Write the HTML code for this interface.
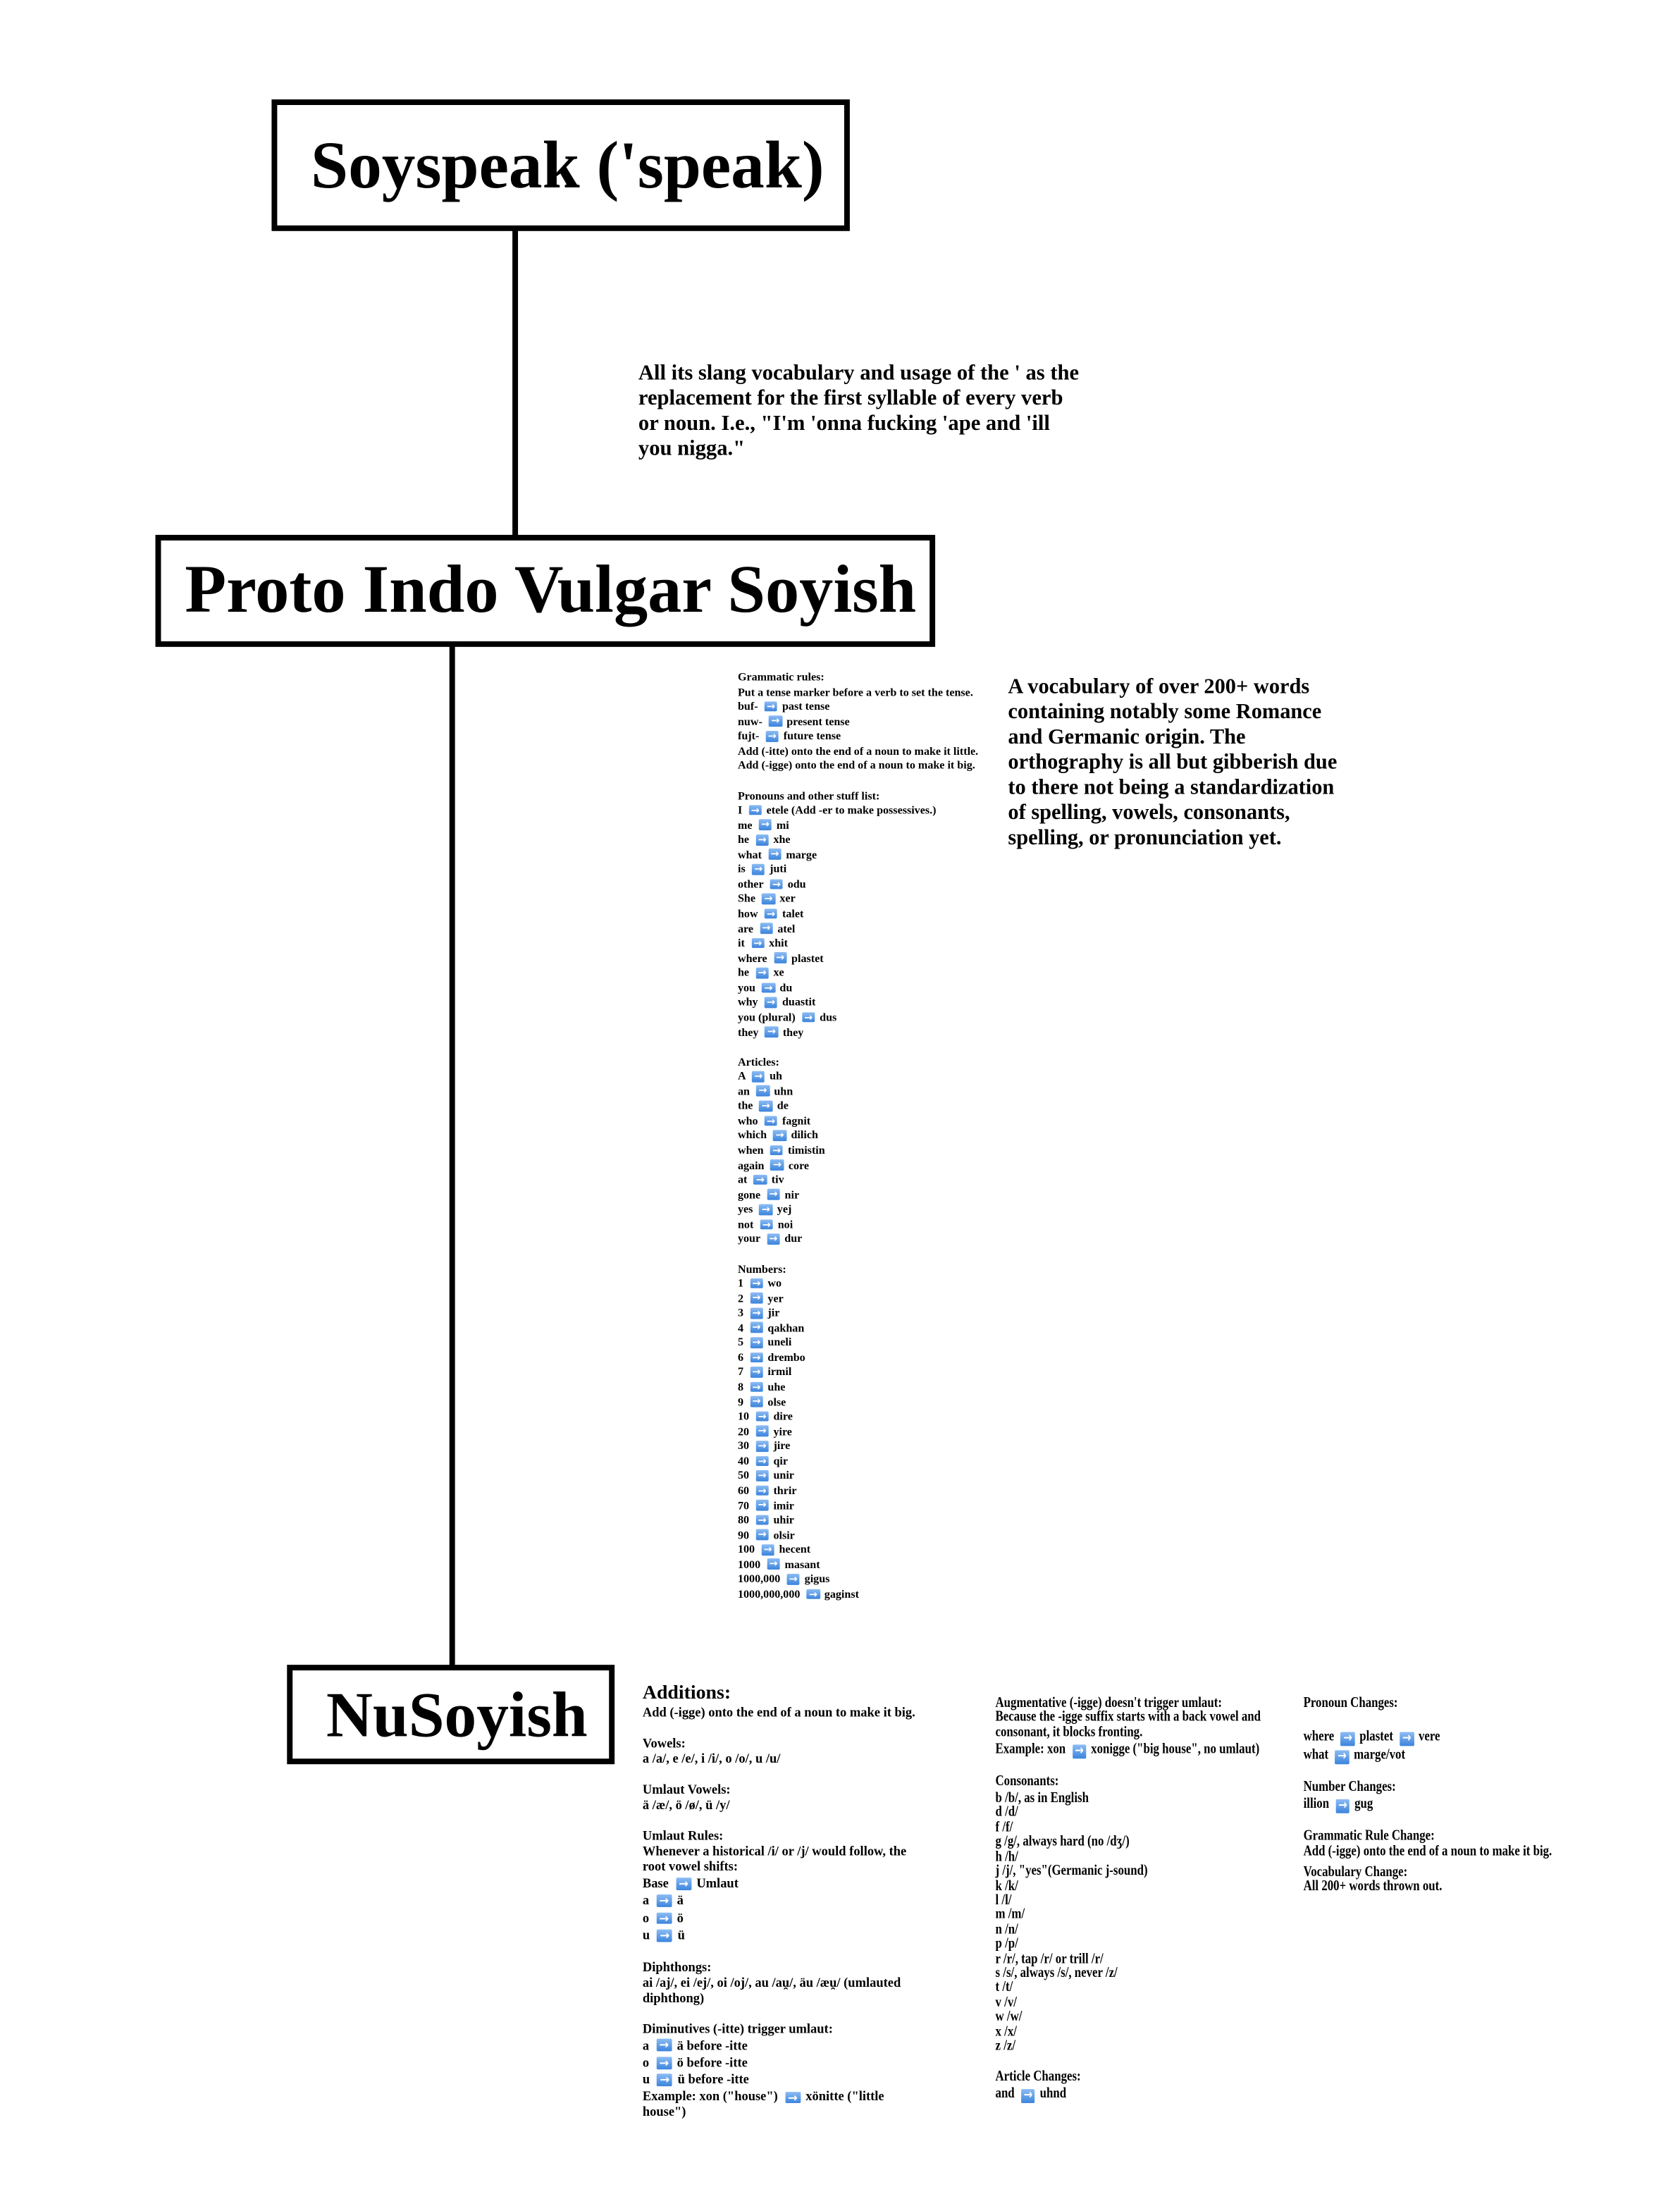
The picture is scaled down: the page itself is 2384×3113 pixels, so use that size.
<!DOCTYPE html>
<html><head><meta charset="utf-8"><style>
html,body{margin:0;padding:0;background:#fff;width:2384px;height:3112px;overflow:hidden}
#s{position:absolute;left:0;top:0;width:1200px;height:1567px;transform:scale(1.98667);transform-origin:0 0;font-family:"Liberation Serif",serif;font-weight:bold;color:#000}
.b{position:absolute;box-sizing:border-box;border:4px solid #000;white-space:nowrap}
.l{position:absolute;background:#000;width:4px}
.t{position:absolute;white-space:pre}
.a{display:inline-block;width:1.3em;height:1.05em;background:linear-gradient(#8dbcf3,#3c84dc);border-radius:1px;color:#fff;text-align:center;line-height:1.05em;vertical-align:top;position:relative;top:0.1em;margin:0 .45em 0 .35em;font-family:"DejaVu Sans",sans-serif;font-size:.9em}
.sm{font-size:8.1px;line-height:10.56px}
.md{font-size:9.3px;line-height:11px}
.md .r{height:12.4px;line-height:12.4px}
.cn{font-size:10.6px;line-height:10.4px;transform:scaleX(.8);transform-origin:0 0}
.z{display:inline-block;line-height:1;vertical-align:top}
</style></head><body><div id="s">
<div class="b" style="left:194px;top:71px;width:413px;height:94px;font-size:48px;line-height:88px;padding-left:24px">Soyspeak ('speak)</div>
<div class="l" style="left:366px;top:164px;height:220px"></div>
<div class="t" style="left:456px;top:258px;font-size:15.4px;line-height:18px">All its slang vocabulary and usage of the ' as the
replacement for the first syllable of every verb
or noun. I.e., "I'm 'onna fucking 'ape and 'ill
you nigga."</div>
<div class="b" style="left:111px;top:382px;width:557px;height:80px;font-size:48.5px;line-height:72px;padding-left:17px">Proto Indo Vulgar Soyish</div>
<div class="l" style="left:321px;top:460px;height:731px"></div>
<div class="b" style="left:205px;top:1189px;width:234px;height:71px;font-size:46px;line-height:64px;padding-left:24px">NuSoyish</div>

<div class="t sm" style="left:527px;top:479px">Grammatic rules:
Put a tense marker before a verb to set the tense.
buf- <span class="a">→</span>past tense
nuw- <span class="a">→</span>present tense
fujt- <span class="a">→</span>future tense
Add (-itte) onto the end of a noun to make it little.
Add (-igge) onto the end of a noun to make it big.

Pronouns and other stuff list:
I <span class="a">→</span>etele (Add -er to make possessives.)
me <span class="a">→</span>mi
he <span class="a">→</span>xhe
what <span class="a">→</span>marge
is <span class="a">→</span>juti
other <span class="a">→</span>odu
She <span class="a">→</span>xer
how <span class="a">→</span>talet
are <span class="a">→</span>atel
it <span class="a">→</span>xhit
where <span class="a">→</span>plastet
he <span class="a">→</span>xe
you <span class="a">→</span>du
why <span class="a">→</span>duastit
you (plural) <span class="a">→</span>dus
they <span class="a">→</span>they

Articles:
A <span class="a">→</span>uh
an <span class="a">→</span>uhn
the <span class="a">→</span>de
who <span class="a">→</span>fagnit
which <span class="a">→</span>dilich
when <span class="a">→</span>timistin
again <span class="a">→</span>core
at <span class="a">→</span>tiv
gone <span class="a">→</span>nir
yes <span class="a">→</span>yej
not <span class="a">→</span>noi
your <span class="a">→</span>dur

Numbers:
1 <span class="a">→</span>wo
2 <span class="a">→</span>yer
3 <span class="a">→</span>jir
4 <span class="a">→</span>qakhan
5 <span class="a">→</span>uneli
6 <span class="a">→</span>drembo
7 <span class="a">→</span>irmil
8 <span class="a">→</span>uhe
9 <span class="a">→</span>olse
10 <span class="a">→</span>dire
20 <span class="a">→</span>yire
30 <span class="a">→</span>jire
40 <span class="a">→</span>qir
50 <span class="a">→</span>unir
60 <span class="a">→</span>thrir
70 <span class="a">→</span>imir
80 <span class="a">→</span>uhir
90 <span class="a">→</span>olsir
100 <span class="a">→</span>hecent
1000 <span class="a">→</span>masant
1000,000 <span class="a">→</span>gigus
1000,000,000 <span class="a">→</span>gaginst</div>

<div class="t" style="left:720px;top:482px;font-size:15.3px;line-height:18px">A vocabulary of over 200+ words
containing notably some Romance
and Germanic origin. The
orthography is all but gibberish due
to there not being a standardization
of spelling, vowels, consonants,
spelling, or pronunciation yet.</div>

<div class="t" style="left:459px;top:1202px;font-size:14px;line-height:16px">Additions:</div>
<div class="t md" style="left:459px;top:1219px">Add (-igge) onto the end of a noun to make it big.

Vowels:
a /a/, e /e/, i /i/, o /o/, u /u/

Umlaut Vowels:
ä /æ/, ö /ø/, ü /y/

Umlaut Rules:
Whenever a historical /i/ or /j/ would follow, the
root vowel shifts:
<div class="r">Base <span class="a">→</span>Umlaut</div><div class="r">a <span class="a">→</span>ä</div><div class="r">o <span class="a">→</span>ö</div><div class="r">u <span class="a">→</span>ü</div>
Diphthongs:
ai /aj/, ei /ej/, oi /oj/, au /au̯/, äu /æu̯/ (umlauted
diphthong)

Diminutives (-itte) trigger umlaut:
<div class="r">a <span class="a">→</span>ä before -itte</div><div class="r">o <span class="a">→</span>ö before -itte</div><div class="r">u <span class="a">→</span>ü before -itte</div>Example: xon ("house") <span class="a">→</span>xönitte ("little
house")</div>

<div class="t cn" style="left:711px;top:1212px">Augmentative (-igge) doesn't trigger umlaut:</div>
<div class="t cn" style="left:711px;top:1222px">Because the -igge suffix starts with a back vowel and</div>
<div class="t cn" style="left:711px;top:1233px">consonant, it blocks fronting.</div>
<div class="t cn" style="left:711px;top:1245px">Example: xon <span class="a">→</span>xonigge ("big house", no umlaut)</div>
<div class="t cn" style="left:711px;top:1268px">Consonants:</div>
<div class="t cn" style="left:711px;top:1280px">b /b/, as in English
d /d/
f /f/
g /g/, always hard (no /d<span class="z">ʒ</span>/)
h /h/
j /j/, "yes"(Germanic j-sound)
k /k/
l /l/
m /m/
n /n/
p /p/
r /r/, tap /r/ or trill /r/
s /s/, always /s/, never /z/
t /t/
v /v/
w /w/
x /x/
z /z/</div>
<div class="t cn" style="left:711px;top:1479px">Article Changes:</div>
<div class="t cn" style="left:711px;top:1491px">and <span class="a">→</span>uhnd</div>

<div class="t cn" style="left:931px;top:1212px">Pronoun Changes:</div>
<div class="t cn" style="left:931px;top:1236px">where <span class="a">→</span>plastet <span class="a">→</span>vere</div>
<div class="t cn" style="left:931px;top:1249px">what <span class="a">→</span>marge/vot</div>
<div class="t cn" style="left:931px;top:1272px">Number Changes:</div>
<div class="t cn" style="left:931px;top:1284px">illion <span class="a">→</span>gug</div>
<div class="t cn" style="left:931px;top:1307px">Grammatic Rule Change:</div>
<div class="t cn" style="left:931px;top:1318px">Add (-igge) onto the end of a noun to make it big.</div>
<div class="t cn" style="left:931px;top:1333px">Vocabulary Change:</div>
<div class="t cn" style="left:931px;top:1343px">All 200+ words thrown out.</div>
</div></body></html>
